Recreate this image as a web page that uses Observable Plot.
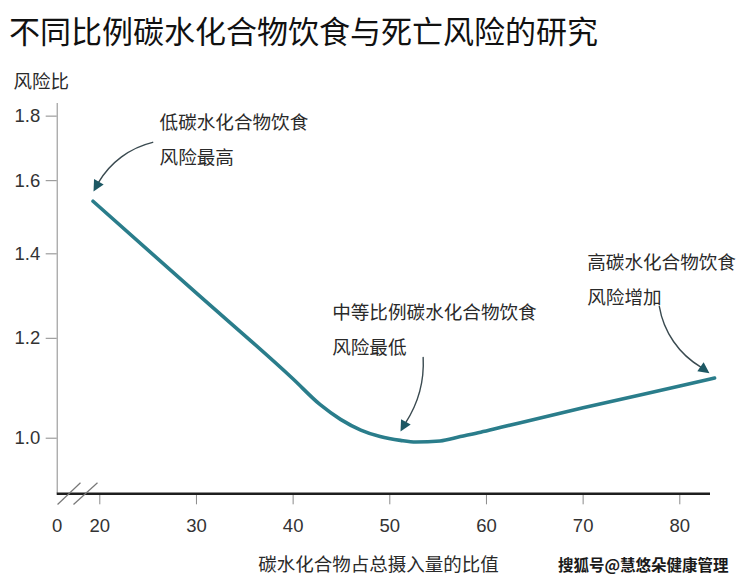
<!DOCTYPE html>
<html>
<head>
<meta charset="utf-8">
<script src="https://cdn.jsdelivr.net/npm/d3@7"></script>
<script src="https://cdn.jsdelivr.net/npm/@observablehq/plot@0.6"></script>
<style>
  html, body { margin: 0; padding: 0; background: #fff; }
  #title { height: 60px; line-height: 60px; padding-left: 9px; font-family: "Noto Sans CJK SC", sans-serif; font-size: 31px; color: #111; white-space: nowrap; overflow: hidden; }
  #chart svg { display: block; }
</style>
</head>
<body>
<div id="title">不同比例碳水化合物饮食与死亡风险的研究</div>
<div id="chart"></div>
<script>
// ---- data ----
const carbPct     = [19.3, 30, 40, 42.8, 44.9, 47.0, 49.0, 51.1, 52.7, 55.2, 57.3, 59.4, 61.5, 70, 80, 83.6];
const hazardRatio = [1.541, 1.303, 1.114, 1.063, 1.035, 1.015, 1.003, 0.996, 0.993, 0.995, 1.003, 1.011, 1.020, 1.057, 1.100, 1.116];

const xTicks = [20, 30, 40, 50, 60, 70, 80];
const yTicks = [1.0, 1.2, 1.4, 1.6, 1.8];
const zeroLabel = ["0"];

const yTitle = "风险比";
const xTitle = "碳水化合物占总摄入量的比值";
const watermark = "搜狐号@慧悠朵健康管理";

// annotation texts and anchors (data units)
const noteText = ["低碳水化合物饮食\n风险最高", "中等比例碳水化合物饮食\n风险最低", "高碳水化合物饮食\n风险增加"];
const noteX = [26.18, 44.04, 70.42];
const noteY = [1.738, 1.228, 1.346];

// arrows: start, shaft end, head tip (data units), bend and head angle
const arrowX1 = [25.47, 53.45, 77.88];
const arrowY1 = [1.716, 1.159, 1.272];
const arrowX2 = [19.87, 51.63, 82.22];
const arrowY2 = [1.595, 1.0285, 1.138];
const tipX = [19.35, 51.11, 83.07];
const tipY = [1.569, 1.0123, 1.126];
const arrowBend = [-23, 18, -25];
const tipAngle = [209, 209, 125];

// axis break marks
const breakX1 = [15.63, 17.28];
const breakX2 = [18.0, 19.76];
const breakY1 = [0.886, 0.886];
const breakY2 = [0.922, 0.922];

const xDomain = [15.593, 83.176];
const yDomain = [0.9035, 1.842];

// ---- build tables ----
const curve = carbPct.map((x, i) => ({x, y: hazardRatio[i]}));
const notes = noteText.map((t, i) => ({t, x: noteX[i], y: noteY[i]}));
const arrows = arrowX1.map((_, i) => ({x1: arrowX1[i], y1: arrowY1[i], x2: arrowX2[i], y2: arrowY2[i], bend: arrowBend[i]}));
const tips = tipX.map((x, i) => ({x, y: tipY[i], a: tipAngle[i]}));
const breaks = breakX1.map((_, i) => ({x1: breakX1[i], x2: breakX2[i], y1: breakY1[i], y2: breakY2[i]}));

const numFont = "Liberation Sans, Arial, sans-serif";
const cjkFont = "Noto Sans CJK SC, sans-serif";

const plot = Plot.plot({
  width: 743,
  height: 521,
  marginLeft: 56.7,
  marginRight: 33,
  marginTop: 43,
  marginBottom: 87.7,
  style: {fontFamily: cjkFont, fontSize: "18px", color: "#333", background: "white", overflow: "visible"},
  x: {type: "linear", domain: xDomain},
  y: {type: "log", domain: yDomain},
  marks: [
    Plot.ruleX([xDomain[0]], {stroke: "#8a8a8a", strokeWidth: 1}),
    Plot.axisY({ticks: yTicks, tickSize: 11, tickPadding: 6, tickFormat: d => d.toFixed(1), stroke: "#8a8a8a", fill: "#333", fontFamily: numFont, fontSize: 18.5, label: null}),
    Plot.axisX({ticks: xTicks, tickSize: 11, tickPadding: 14, tickFormat: d => String(d), stroke: "#8a8a8a", fill: "#333", fontFamily: numFont, fontSize: 18.5, label: null}),
    Plot.ruleY([yDomain[0]], {stroke: "#1e1e1e", strokeWidth: 2.6}),
    Plot.link(breaks, {x1: "x1", y1: "y1", x2: "x2", y2: "y2", stroke: "#777", strokeWidth: 1.2}),
    Plot.text(zeroLabel, {x: () => xDomain[0], frameAnchor: "bottom", dy: 25, lineAnchor: "top", text: d => d, fontFamily: numFont, fontSize: 18.5, fill: "#333"}),
    Plot.line(curve, {x: "x", y: "y", curve: "monotone-x", stroke: "#2a7d8b", strokeWidth: 3.6}),
    ...arrows.map(a => Plot.arrow([a], {x1: "x1", y1: "y1", x2: "x2", y2: "y2", bend: a.bend, headLength: 0, stroke: "#3a4a50", strokeWidth: 1.4})),
    Plot.vector(tips, {x: "x", y: "y", rotate: "a", length: 11, shape: "spike", r: 5.5, anchor: "end", fill: "#1d5864", stroke: "none"}),
    Plot.text(notes, {x: "x", y: "y", text: "t", textAnchor: "start", lineAnchor: "middle", lineHeight: 1.85, fontSize: 18.6, fill: "#2a2a2a", fontFamily: cjkFont}),
    Plot.text([yTitle], {frameAnchor: "top-left", dx: -43.7, dy: -21, textAnchor: "start", lineAnchor: "middle", text: d => d, fontSize: 18.5, fill: "#2a2a2a"}),
    Plot.text([xTitle], {frameAnchor: "bottom", dx: -5.3, dy: 71.7, textAnchor: "middle", lineAnchor: "middle", text: d => d, fontSize: 18.5, fill: "#2a2a2a"}),
    Plot.text([watermark], {frameAnchor: "bottom-right", dx: 18, dy: 72, textAnchor: "end", lineAnchor: "middle", text: d => d, fontSize: 15.5, fontWeight: "bold", fill: "#1a1a1a", stroke: "white", strokeWidth: 1.5})
  ]
});
document.getElementById("chart").appendChild(plot);
</script>
</body>
</html>
